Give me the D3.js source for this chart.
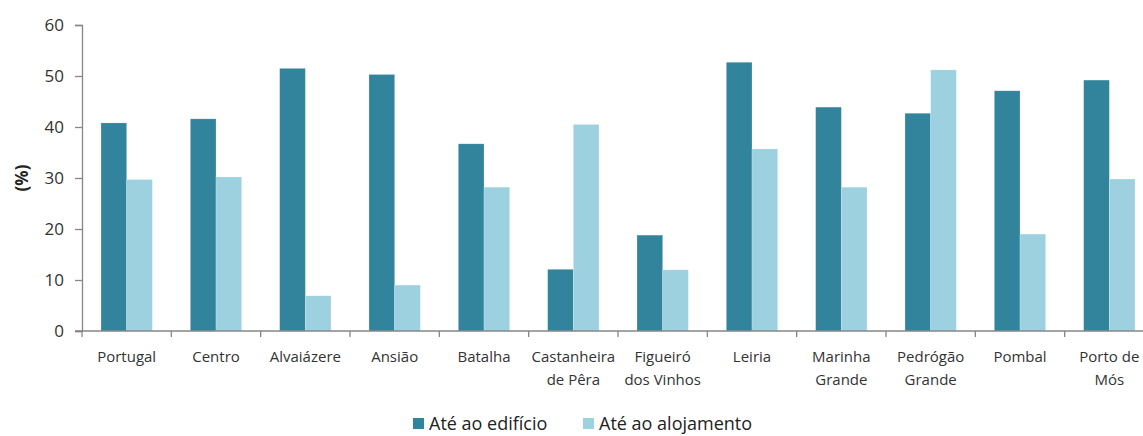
<!DOCTYPE html>
<html>
<head>
<meta charset="utf-8">
<script src="https://cdn.jsdelivr.net/npm/d3@7"></script>
<style>
  body { margin: 0; background: #fff; }
  svg { display: block; }
</style>
</head>
<body>
<div id="chart"></div>
<script>
// categories (each entry = label lines)
var categories = [
  ["Portugal"], ["Centro"], ["Alvaiázere"], ["Ansião"], ["Batalha"],
  ["Castanheira", "de Pêra"], ["Figueiró", "dos Vinhos"], ["Leiria"],
  ["Marinha", "Grande"], ["Pedrógão", "Grande"], ["Pombal"], ["Porto de", "Mós"]
];
var seriesNames = ["Até ao edifício", "Até ao alojamento"];
var edificio   = [40.8, 41.6, 51.5, 50.3, 36.7, 12.1, 18.8, 52.7, 43.9, 42.7, 47.1, 49.2];
var alojamento = [29.7, 30.2, 6.9, 9.0, 28.2, 40.5, 12.0, 35.7, 28.2, 51.2, 19.0, 29.8];
var yTicks = [0, 10, 20, 30, 40, 50, 60];
var colors = ["#31849b", "#9dd1df"];

var width = 1143, height = 436;
var margin = {top: 25, left: 82, bottom: 105};
var plotBottom = height - margin.bottom; // 331

var svg = d3.select("#chart").append("svg")
  .attr("width", width)
  .attr("height", height);

var keys = categories.map(function(d){ return d.join(" "); });

var x0 = d3.scaleBand()
  .domain(keys)
  .range([margin.left, 1154])
  .padding(0);

var x1 = d3.scaleBand()
  .domain(seriesNames)
  .range([0, x0.step()])
  .paddingInner(0)
  .paddingOuter(0.74);

var y = d3.scaleLinear()
  .domain([0, 60])
  .range([plotBottom, margin.top]);

var data = keys.map(function(k, i){
  return {key: k, values: [
    {name: seriesNames[0], value: edificio[i]},
    {name: seriesNames[1], value: alojamento[i]}
  ]};
});

// bars
var groups = svg.selectAll(".grp")
  .data(data)
  .enter().append("g")
  .attr("class", "grp")
  .attr("transform", function(d){ return "translate(" + x0(d.key) + ",0)"; });

groups.selectAll("rect")
  .data(function(d){ return d.values; })
  .enter().append("rect")
  .attr("x", function(d){ return x1(d.name); })
  .attr("y", function(d){ return y(d.value); })
  .attr("width", x1.bandwidth())
  .attr("height", function(d){ return y(0) - y(d.value); })
  .attr("fill", function(d, i){ return colors[i]; })
  .attr("stroke", "#ffffff")
  .attr("stroke-opacity", 0.35)
  .attr("stroke-width", 0.6);

// y axis
var yAxis = svg.append("g")
  .attr("transform", "translate(" + margin.left + ",0)")
  .call(d3.axisLeft(y).tickValues(yTicks).tickSize(7).tickPadding(11));
yAxis.select(".domain").attr("stroke", "#868686").attr("stroke-width", 1.3);
yAxis.selectAll(".tick line").attr("stroke", "#868686").attr("stroke-width", 1.3);
yAxis.selectAll(".tick text")
  .attr("font-family", "Open Sans")
  .attr("font-size", "17px")
  .attr("fill", "#333");

// x axis line
svg.append("line")
  .attr("x1", margin.left - 7)
  .attr("x2", width)
  .attr("y1", y(0))
  .attr("y2", y(0))
  .attr("stroke", "#868686")
  .attr("stroke-width", 1.3);

// x boundary ticks
svg.selectAll(".xtick")
  .data(keys)
  .enter().append("line")
  .attr("class", "xtick")
  .attr("x1", function(d){ return x0(d); })
  .attr("x2", function(d){ return x0(d); })
  .attr("y1", y(0))
  .attr("y2", y(0) + 6)
  .attr("stroke", "#868686")
  .attr("stroke-width", 1.3);

// x labels
var xl = svg.selectAll(".xlab")
  .data(categories)
  .enter().append("text")
  .attr("class", "xlab")
  .attr("text-anchor", "middle")
  .attr("font-family", "Open Sans")
  .attr("font-size", "15px")
  .attr("fill", "#333")
  .attr("transform", function(d, i){
    return "translate(" + (x0(keys[i]) + x0.bandwidth() / 2) + "," + (plotBottom + 31) + ")";
  });
xl.selectAll("tspan")
  .data(function(d){ return d; })
  .enter().append("tspan")
  .attr("x", 0)
  .attr("dy", function(d, i){ return i === 0 ? 0 : 22.5; })
  .text(function(d){ return d; });

// y title
svg.append("text")
  .attr("transform", "translate(28," + y(30) + ") rotate(-90)")
  .attr("text-anchor", "middle")
  .attr("font-family", "Open Sans")
  .attr("font-weight", "bold")
  .attr("font-size", "17px")
  .attr("fill", "#222")
  .text("(%)");

// legend
var legendX = [413, 583];
var legend = svg.selectAll(".leg")
  .data(seriesNames)
  .enter().append("g")
  .attr("class", "leg")
  .attr("transform", function(d, i){ return "translate(" + legendX[i] + ",418)"; });
legend.append("rect")
  .attr("width", 11)
  .attr("height", 11)
  .attr("fill", function(d, i){ return colors[i]; });
legend.append("text")
  .attr("x", 16)
  .attr("y", 12)
  .attr("font-family", "Open Sans")
  .attr("font-size", "18px")
  .attr("fill", "#222")
  .text(function(d){ return d; });
</script>
</body>
</html>
